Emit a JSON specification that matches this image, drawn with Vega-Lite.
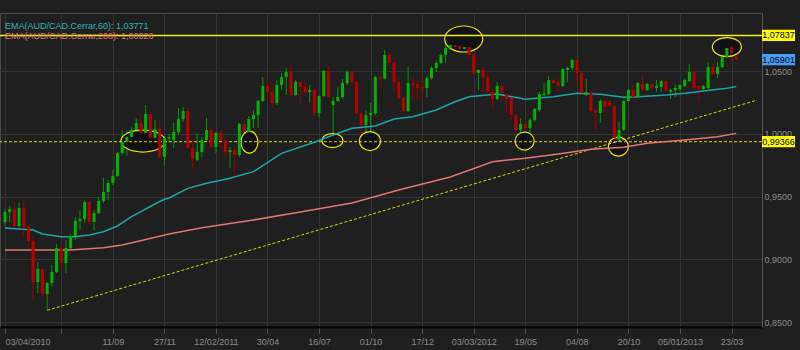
{
  "$schema": "https://vega.github.io/schema/vega-lite/v6.json",
  "width": 762,
  "height": 314,
  "autosize": {"type": "none"},
  "padding": {"left": 0, "top": 13, "right": 38, "bottom": 23},
  "background": "#1f1f1f",
  "config": {
    "view": {"stroke": "#4a4a4a", "fill": "#1f1f1f"},
    "axisX": {"grid": true, "gridColor": "#343434", "tickColor": "#555555", "tickSize": 6, "domainColor": "#050505", "domainWidth": 2, "labelColor": "#8c8c8c", "labelFont": "Liberation Sans", "labelFontSize": 9, "labelPadding": 4},
    "axisY": {"grid": true, "gridColor": "#343434", "ticks": false, "domain": true, "domainColor": "#555555", "labelColor": "#8c8c8c", "labelFont": "Liberation Sans", "labelFontSize": 9, "labelPadding": 2}
  },
  "title": {
    "text": "EMA(AUD/CAD.Cerrar,60): 1,03771",
    "subtitle": "EMA(AUD/CAD.Cerrar,200): 1,00026",
    "anchor": "start", "frame": "group", "offset": -28, "dx": 5,
    "font": "Liberation Sans", "fontSize": 9, "fontWeight": "normal", "color": "#2bb3b3",
    "subtitleFont": "Liberation Sans", "subtitleFontSize": 9, "subtitleColor": "#e0786f", "subtitlePadding": 1
  },
  "datasets": {
    "candles": [
      {"d":"2010-04-03","o":0.9297,"h":0.9400,"l":0.9273,"c":0.9377},
      {"d":"2010-04-10","o":0.9377,"h":0.9424,"l":0.9297,"c":0.9400},
      {"d":"2010-04-17","o":0.9400,"h":0.9456,"l":0.9249,"c":0.9265},
      {"d":"2010-04-24","o":0.9265,"h":0.9448,"l":0.9249,"c":0.9408},
      {"d":"2010-05-01","o":0.9408,"h":0.9472,"l":0.9185,"c":0.9257},
      {"d":"2010-05-08","o":0.9257,"h":0.9265,"l":0.9113,"c":0.9145},
      {"d":"2010-05-15","o":0.9145,"h":0.9177,"l":0.8667,"c":0.8819},
      {"d":"2010-05-22","o":0.8819,"h":0.8978,"l":0.8731,"c":0.8922},
      {"d":"2010-05-29","o":0.8922,"h":0.8930,"l":0.8699,"c":0.8723},
      {"d":"2010-06-05","o":0.8723,"h":0.8819,"l":0.8596,"c":0.8811},
      {"d":"2010-06-12","o":0.8811,"h":0.8954,"l":0.8787,"c":0.8898},
      {"d":"2010-06-19","o":0.8898,"h":0.9121,"l":0.8890,"c":0.9090},
      {"d":"2010-06-26","o":0.9090,"h":0.9129,"l":0.8922,"c":0.8970},
      {"d":"2010-07-03","o":0.8970,"h":0.9153,"l":0.8890,"c":0.9090},
      {"d":"2010-07-10","o":0.9090,"h":0.9201,"l":0.9074,"c":0.9185},
      {"d":"2010-07-17","o":0.9185,"h":0.9337,"l":0.9153,"c":0.9305},
      {"d":"2010-07-24","o":0.9305,"h":0.9392,"l":0.9233,"c":0.9321},
      {"d":"2010-07-31","o":0.9321,"h":0.9472,"l":0.9289,"c":0.9456},
      {"d":"2010-08-07","o":0.9456,"h":0.9480,"l":0.9281,"c":0.9297},
      {"d":"2010-08-14","o":0.9297,"h":0.9392,"l":0.9233,"c":0.9369},
      {"d":"2010-08-21","o":0.9369,"h":0.9496,"l":0.9361,"c":0.9464},
      {"d":"2010-08-28","o":0.9464,"h":0.9647,"l":0.9448,"c":0.9536},
      {"d":"2010-09-04","o":0.9536,"h":0.9631,"l":0.9472,"c":0.9608},
      {"d":"2010-09-11","o":0.9608,"h":0.9711,"l":0.9592,"c":0.9663},
      {"d":"2010-09-18","o":0.9663,"h":0.9855,"l":0.9655,"c":0.9847},
      {"d":"2010-09-25","o":0.9847,"h":1.0030,"l":0.9831,"c":0.9934},
      {"d":"2010-10-02","o":0.9934,"h":1.0022,"l":0.9823,"c":0.9974},
      {"d":"2010-10-09","o":0.9974,"h":1.0054,"l":0.9894,"c":1.0030},
      {"d":"2010-10-16","o":1.0030,"h":1.0125,"l":1.0006,"c":1.0086},
      {"d":"2010-10-23","o":1.0086,"h":1.0157,"l":0.9926,"c":1.0006},
      {"d":"2010-10-30","o":1.0006,"h":1.0229,"l":0.9998,"c":1.0157},
      {"d":"2010-11-06","o":1.0157,"h":1.0165,"l":0.9950,"c":0.9966},
      {"d":"2010-11-13","o":0.9966,"h":1.0110,"l":0.9950,"c":1.0038},
      {"d":"2010-11-20","o":1.0038,"h":1.0102,"l":0.9807,"c":0.9815},
      {"d":"2010-11-27","o":0.9815,"h":0.9982,"l":0.9751,"c":0.9966},
      {"d":"2010-12-04","o":0.9960,"h":0.9998,"l":0.9934,"c":0.9972},
      {"d":"2010-12-11","o":0.9950,"h":1.0086,"l":0.9886,"c":1.0014},
      {"d":"2010-12-18","o":1.0014,"h":1.0205,"l":0.9998,"c":1.0117},
      {"d":"2010-12-25","o":1.0117,"h":1.0213,"l":1.0094,"c":1.0181},
      {"d":"2011-01-01","o":1.0181,"h":1.0189,"l":0.9879,"c":0.9886},
      {"d":"2011-01-08","o":0.9886,"h":0.9950,"l":0.9719,"c":0.9799},
      {"d":"2011-01-15","o":0.9791,"h":1.0006,"l":0.9783,"c":0.9855},
      {"d":"2011-01-22","o":0.9855,"h":0.9974,"l":0.9815,"c":0.9950},
      {"d":"2011-01-29","o":0.9950,"h":1.0125,"l":0.9934,"c":1.0030},
      {"d":"2011-02-05","o":1.0030,"h":1.0054,"l":0.9886,"c":0.9894},
      {"d":"2011-02-12","o":0.9894,"h":1.0014,"l":0.9847,"c":1.0006},
      {"d":"2011-02-19","o":1.0006,"h":1.0022,"l":0.9894,"c":0.9942},
      {"d":"2011-02-26","o":0.9942,"h":0.9966,"l":0.9807,"c":0.9855},
      {"d":"2011-03-05","o":0.9855,"h":0.9894,"l":0.9727,"c":0.9870},
      {"d":"2011-03-12","o":0.9870,"h":0.9894,"l":0.9655,"c":0.9831},
      {"d":"2011-03-19","o":0.9831,"h":1.0086,"l":0.9815,"c":1.0078},
      {"d":"2011-03-26","o":1.0078,"h":1.0110,"l":0.9998,"c":1.0014},
      {"d":"2011-04-02","o":1.0014,"h":1.0141,"l":0.9998,"c":1.0117},
      {"d":"2011-04-09","o":1.0117,"h":1.0189,"l":1.0046,"c":1.0149},
      {"d":"2011-04-16","o":1.0149,"h":1.0269,"l":1.0046,"c":1.0261},
      {"d":"2011-04-23","o":1.0261,"h":1.0452,"l":1.0253,"c":1.0380},
      {"d":"2011-04-30","o":1.0380,"h":1.0452,"l":1.0269,"c":1.0333},
      {"d":"2011-05-07","o":1.0333,"h":1.0412,"l":1.0205,"c":1.0245},
      {"d":"2011-05-14","o":1.0245,"h":1.0428,"l":1.0229,"c":1.0388},
      {"d":"2011-05-21","o":1.0388,"h":1.0484,"l":1.0349,"c":1.0452},
      {"d":"2011-05-28","o":1.0452,"h":1.0524,"l":1.0309,"c":1.0492},
      {"d":"2011-06-04","o":1.0492,"h":1.0564,"l":1.0301,"c":1.0309},
      {"d":"2011-06-11","o":1.0309,"h":1.0428,"l":1.0301,"c":1.0412},
      {"d":"2011-06-18","o":1.0412,"h":1.0420,"l":1.0245,"c":1.0372},
      {"d":"2011-06-25","o":1.0372,"h":1.0404,"l":1.0309,"c":1.0333},
      {"d":"2011-07-02","o":1.0333,"h":1.0388,"l":1.0253,"c":1.0349},
      {"d":"2011-07-09","o":1.0349,"h":1.0365,"l":1.0149,"c":1.0165},
      {"d":"2011-07-16","o":1.0165,"h":1.0309,"l":1.0133,"c":1.0301},
      {"d":"2011-07-23","o":1.0301,"h":1.0508,"l":1.0293,"c":1.0500},
      {"d":"2011-07-30","o":1.0500,"h":1.0540,"l":1.0285,"c":1.0293},
      {"d":"2011-08-06","o":1.0229,"h":1.0293,"l":0.9910,"c":1.0261},
      {"d":"2011-08-13","o":1.0261,"h":1.0372,"l":1.0255,"c":1.0293},
      {"d":"2011-08-20","o":1.0293,"h":1.0436,"l":1.0277,"c":1.0404},
      {"d":"2011-08-27","o":1.0404,"h":1.0508,"l":1.0388,"c":1.0492},
      {"d":"2011-09-03","o":1.0492,"h":1.0500,"l":1.0388,"c":1.0412},
      {"d":"2011-09-10","o":1.0412,"h":1.0420,"l":1.0149,"c":1.0165},
      {"d":"2011-09-17","o":1.0165,"h":1.0173,"l":1.0006,"c":1.0070},
      {"d":"2011-09-24","o":1.0070,"h":1.0189,"l":1.0006,"c":1.0149},
      {"d":"2011-10-01","o":1.0149,"h":1.0245,"l":0.9950,"c":1.0165},
      {"d":"2011-10-08","o":1.0165,"h":1.0460,"l":1.0149,"c":1.0452},
      {"d":"2011-10-15","o":1.0452,"h":1.0460,"l":1.0372,"c":1.0440},
      {"d":"2011-10-22","o":1.0440,"h":1.0667,"l":1.0436,"c":1.0628},
      {"d":"2011-10-29","o":1.0628,"h":1.0643,"l":1.0548,"c":1.0564},
      {"d":"2011-11-05","o":1.0564,"h":1.0580,"l":1.0325,"c":1.0412},
      {"d":"2011-11-12","o":1.0412,"h":1.0452,"l":1.0269,"c":1.0285},
      {"d":"2011-11-19","o":1.0285,"h":1.0293,"l":1.0173,"c":1.0181},
      {"d":"2011-11-26","o":1.0181,"h":1.0532,"l":1.0173,"c":1.0404},
      {"d":"2011-12-03","o":1.0404,"h":1.0452,"l":1.0269,"c":1.0388},
      {"d":"2011-12-10","o":1.0396,"h":1.0428,"l":1.0269,"c":1.0365},
      {"d":"2011-12-17","o":1.0372,"h":1.0452,"l":1.0269,"c":1.0360},
      {"d":"2011-12-24","o":1.0365,"h":1.0460,"l":1.0293,"c":1.0444},
      {"d":"2011-12-31","o":1.0444,"h":1.0540,"l":1.0428,"c":1.0524},
      {"d":"2012-01-07","o":1.0524,"h":1.0580,"l":1.0492,"c":1.0564},
      {"d":"2012-01-14","o":1.0564,"h":1.0643,"l":1.0556,"c":1.0628},
      {"d":"2012-01-21","o":1.0628,"h":1.0747,"l":1.0564,"c":1.0683},
      {"d":"2012-01-28","o":1.0683,"h":1.0747,"l":1.0667,"c":1.0707},
      {"d":"2012-02-04","o":1.0707,"h":1.0784,"l":1.0667,"c":1.0691},
      {"d":"2012-02-11","o":1.0699,"h":1.0779,"l":1.0651,"c":1.0675},
      {"d":"2012-02-18","o":1.0675,"h":1.0723,"l":1.0659,"c":1.0691},
      {"d":"2012-02-25","o":1.0691,"h":1.0779,"l":1.0604,"c":1.0628},
      {"d":"2012-03-03","o":1.0628,"h":1.0632,"l":1.0468,"c":1.0484},
      {"d":"2012-03-10","o":1.0484,"h":1.0512,"l":1.0349,"c":1.0508},
      {"d":"2012-03-17","o":1.0508,"h":1.0524,"l":1.0333,"c":1.0452},
      {"d":"2012-03-24","o":1.0452,"h":1.0468,"l":1.0325,"c":1.0333},
      {"d":"2012-03-31","o":1.0333,"h":1.0365,"l":1.0205,"c":1.0277},
      {"d":"2012-04-07","o":1.0277,"h":1.0412,"l":1.0269,"c":1.0380},
      {"d":"2012-04-14","o":1.0380,"h":1.0404,"l":1.0269,"c":1.0325},
      {"d":"2012-04-21","o":1.0309,"h":1.0325,"l":1.0165,"c":1.0277},
      {"d":"2012-04-28","o":1.0285,"h":1.0293,"l":1.0110,"c":1.0149},
      {"d":"2012-05-05","o":1.0149,"h":1.0152,"l":1.0014,"c":1.0030},
      {"d":"2012-05-12","o":1.0030,"h":1.0125,"l":0.9990,"c":1.0078},
      {"d":"2012-05-19","o":1.0078,"h":1.0110,"l":0.9966,"c":1.0046},
      {"d":"2012-05-26","o":1.0046,"h":1.0125,"l":1.0006,"c":1.0110},
      {"d":"2012-06-02","o":1.0110,"h":1.0205,"l":1.0094,"c":1.0197},
      {"d":"2012-06-09","o":1.0189,"h":1.0333,"l":1.0173,"c":1.0317},
      {"d":"2012-06-16","o":1.0309,"h":1.0404,"l":1.0301,"c":1.0321},
      {"d":"2012-06-23","o":1.0317,"h":1.0460,"l":1.0309,"c":1.0428},
      {"d":"2012-06-30","o":1.0428,"h":1.0436,"l":1.0396,"c":1.0404},
      {"d":"2012-07-07","o":1.0412,"h":1.0452,"l":1.0325,"c":1.0380},
      {"d":"2012-07-14","o":1.0380,"h":1.0524,"l":1.0372,"c":1.0516},
      {"d":"2012-07-21","o":1.0508,"h":1.0532,"l":1.0412,"c":1.0524},
      {"d":"2012-07-28","o":1.0524,"h":1.0596,"l":1.0508,"c":1.0588},
      {"d":"2012-08-04","o":1.0588,"h":1.0596,"l":1.0412,"c":1.0484},
      {"d":"2012-08-11","o":1.0484,"h":1.0492,"l":1.0309,"c":1.0325},
      {"d":"2012-08-18","o":1.0309,"h":1.0436,"l":1.0301,"c":1.0333},
      {"d":"2012-08-25","o":1.0333,"h":1.0349,"l":1.0173,"c":1.0181},
      {"d":"2012-09-01","o":1.0189,"h":1.0197,"l":1.0030,"c":1.0165},
      {"d":"2012-09-08","o":1.0165,"h":1.0277,"l":1.0086,"c":1.0261},
      {"d":"2012-09-15","o":1.0261,"h":1.0269,"l":1.0165,"c":1.0213},
      {"d":"2012-09-22","o":1.0253,"h":1.0269,"l":1.0213,"c":1.0221},
      {"d":"2012-09-29","o":1.0221,"h":1.0229,"l":0.9942,"c":0.9966},
      {"d":"2012-10-06","o":0.9950,"h":1.0094,"l":0.9870,"c":1.0030},
      {"d":"2012-10-13","o":1.0030,"h":1.0269,"l":1.0022,"c":1.0261},
      {"d":"2012-10-20","o":1.0261,"h":1.0357,"l":1.0253,"c":1.0349},
      {"d":"2012-10-27","o":1.0349,"h":1.0388,"l":1.0285,"c":1.0293},
      {"d":"2012-11-03","o":1.0293,"h":1.0412,"l":1.0285,"c":1.0404},
      {"d":"2012-11-10","o":1.0396,"h":1.0468,"l":1.0341,"c":1.0349},
      {"d":"2012-11-17","o":1.0349,"h":1.0404,"l":1.0341,"c":1.0396},
      {"d":"2012-11-24","o":1.0396,"h":1.0404,"l":1.0357,"c":1.0365},
      {"d":"2012-12-01","o":1.0365,"h":1.0428,"l":1.0333,"c":1.0380},
      {"d":"2012-12-08","o":1.0372,"h":1.0428,"l":1.0333,"c":1.0420},
      {"d":"2012-12-15","o":1.0420,"h":1.0428,"l":1.0337,"c":1.0341},
      {"d":"2012-12-22","o":1.0333,"h":1.0357,"l":1.0277,"c":1.0349},
      {"d":"2012-12-29","o":1.0349,"h":1.0388,"l":1.0293,"c":1.0365},
      {"d":"2013-01-05","o":1.0357,"h":1.0396,"l":1.0341,"c":1.0388},
      {"d":"2013-01-12","o":1.0380,"h":1.0444,"l":1.0372,"c":1.0428},
      {"d":"2013-01-19","o":1.0420,"h":1.0556,"l":1.0412,"c":1.0492},
      {"d":"2013-01-26","o":1.0492,"h":1.0508,"l":1.0361,"c":1.0365},
      {"d":"2013-02-02","o":1.0380,"h":1.0388,"l":1.0253,"c":1.0357},
      {"d":"2013-02-09","o":1.0357,"h":1.0388,"l":1.0349,"c":1.0380},
      {"d":"2013-02-16","o":1.0365,"h":1.0572,"l":1.0357,"c":1.0532},
      {"d":"2013-02-23","o":1.0532,"h":1.0564,"l":1.0468,"c":1.0476},
      {"d":"2013-03-02","o":1.0476,"h":1.0572,"l":1.0444,"c":1.0532},
      {"d":"2013-03-09","o":1.0532,"h":1.0683,"l":1.0520,"c":1.0612},
      {"d":"2013-03-16","o":1.0612,"h":1.0723,"l":1.0604,"c":1.0683},
      {"d":"2013-03-23","o":1.0691,"h":1.0707,"l":1.0588,"c":1.0643},
      {"d":"2013-03-30","o":1.0614,"h":1.0616,"l":1.0586,"c":1.0590}
    ],
    "ema60": [
      {"d":"2010-04-03","v":0.9249},{"d":"2010-05-15","v":0.9233},{"d":"2010-05-29","v":0.9201},
      {"d":"2010-06-26","v":0.9180},{"d":"2010-07-17","v":0.9180},{"d":"2010-08-07","v":0.9193},
      {"d":"2010-08-28","v":0.9219},{"d":"2010-09-18","v":0.9265},{"d":"2010-10-09","v":0.9339},
      {"d":"2010-11-13","v":0.9440},{"d":"2010-11-27","v":0.9478},{"d":"2010-12-04","v":0.9488},
      {"d":"2011-01-01","v":0.9565},{"d":"2011-01-29","v":0.9605},{"d":"2011-03-05","v":0.9645},
      {"d":"2011-04-09","v":0.9698},{"d":"2011-05-21","v":0.9844},{"d":"2011-07-09","v":0.9932},
      {"d":"2011-07-30","v":0.9976},{"d":"2011-09-03","v":1.0043},{"d":"2011-10-08","v":1.0062},
      {"d":"2011-11-05","v":1.0118},{"d":"2011-12-03","v":1.0136},{"d":"2012-01-07","v":1.0189},
      {"d":"2012-02-04","v":1.0255},{"d":"2012-02-25","v":1.0295},{"d":"2012-04-07","v":1.0317},
      {"d":"2012-05-19","v":1.0275},{"d":"2012-06-30","v":1.0295},{"d":"2012-08-04","v":1.0322},
      {"d":"2012-09-08","v":1.0314},{"d":"2012-10-13","v":1.0290},{"d":"2012-11-03","v":1.0295},
      {"d":"2012-12-15","v":1.0309},{"d":"2013-01-12","v":1.0322},{"d":"2013-02-09","v":1.0340},
      {"d":"2013-03-16","v":1.0362},{"d":"2013-03-30","v":1.0377}
    ],
    "ema200": [
      {"d":"2010-04-03","v":0.9074},{"d":"2010-05-22","v":0.9074},{"d":"2010-07-10","v":0.9074},
      {"d":"2010-07-31","v":0.9082},{"d":"2010-08-28","v":0.9092},{"d":"2010-09-25","v":0.9113},
      {"d":"2010-10-16","v":0.9140},{"d":"2010-12-04","v":0.9201},{"d":"2011-01-22","v":0.9251},
      {"d":"2011-04-09","v":0.9313},{"d":"2011-06-18","v":0.9376},{"d":"2011-09-03","v":0.9448},
      {"d":"2011-11-12","v":0.9552},{"d":"2012-01-28","v":0.9655},{"d":"2012-03-31","v":0.9777},
      {"d":"2012-05-19","v":0.9805},{"d":"2012-07-07","v":0.9839},{"d":"2012-08-25","v":0.9876},
      {"d":"2012-10-13","v":0.9892},{"d":"2012-11-17","v":0.9924},{"d":"2013-01-12","v":0.9950},
      {"d":"2013-03-02","v":0.9976},{"d":"2013-03-30","v":1.0003}
    ],
    "trend": [{"d":"2010-06-05","v":0.8593},{"d":"2013-04-30","v":1.0268}],
    "levels": [{"v":1.07837,"k":"solid"},{"v":0.99366,"k":"dash"}],
    "ellipses": [
      {"d":"2010-10-26","v":0.9942,"id":"e1"},
      {"d":"2011-04-03","v":0.9934,"id":"e2"},
      {"d":"2011-08-05","v":0.9946,"id":"e3"},
      {"d":"2011-09-30","v":0.9942,"id":"e4"},
      {"d":"2012-02-17","v":1.0755,"id":"e5"},
      {"d":"2012-05-18","v":0.9942,"id":"e6"},
      {"d":"2012-10-05","v":0.9898,"id":"e7"},
      {"d":"2013-03-16","v":1.0691,"id":"e8"}
    ],
    "tags": [
      {"v":1.07837,"t":"1,07837","k":"line"},
      {"v":1.05901,"t":"1,05901","k":"price"},
      {"v":0.99366,"t":"0,99366","k":"line"}
    ]
  },
  "layer": [
    {
      "data": {"name": "candles"},
      "mark": {"type": "rule", "clip": true, "strokeWidth": 1},
      "encoding": {
        "x": {
          "field": "d", "type": "temporal", "title": null,
          "scale": {"type": "utc", "domain": [1270252800000, 1367280000000]},
          "axis": {
            "values": [1270252800000, 1277510400000, 1284163200000, 1290816000000, 1297468800000, 1304121600000, 1310774400000, 1317427200000, 1324080000000, 1330732800000, 1337385600000, 1344038400000, 1350691200000, 1357344000000, 1363996800000],
            "labelExpr": "indexof(['03/04/2010','12/02/2011','03/03/2012','05/01/2013'], utcFormat(datum.value, '%d/%m/%Y')) >= 0 ? utcFormat(datum.value, '%d/%m/%Y') : (utcFormat(datum.value, '%d/%m') == '26/06' ? '' : utcFormat(datum.value, '%d/%m'))",
            "labelFlush": false, "labelOverlap": false, "labelBound": false,
            "labelAlign": {"condition": {"test": "datum.value <= 1270252800000", "value": "left"}, "value": "center"},
            "title": null
          }
        },
        "y": {
          "field": "l", "type": "quantitative", "title": null,
          "scale": {"domain": [0.84602, 1.09622], "zero": false, "nice": false},
          "axis": {
            "orient": "right",
            "values": [0.85, 0.875, 0.9, 0.925, 0.95, 0.975, 1.0, 1.025, 1.05],
            "labelExpr": "replace(format(datum.value, '.4f'), '.', ',')",
            "title": null
          }
        },
        "y2": {"field": "h"},
        "color": {"condition": {"test": "datum.c >= datum.o", "value": "#009a00"}, "value": "#9a0000"}
      }
    },
    {
      "data": {"name": "ellipses"},
      "mark": {"type": "point", "filled": true, "fill": "#111111", "stroke": "#e6e600", "strokeWidth": 1.2, "opacity": 1, "clip": true},
      "encoding": {
        "x": {"field": "d", "type": "temporal", "title": null},
        "y": {"field": "v", "type": "quantitative", "title": null},
        "shape": {
          "field": "id", "type": "nominal", "legend": null,
          "scale": {
            "type": "ordinal",
            "domain": ["e1","e2","e3","e4","e5","e6","e7","e8"],
            "range": [
              "M-1,0C-1,-0.276,-0.552,-0.5,0,-0.5C0.552,-0.5,1,-0.276,1,0C1,0.276,0.552,0.5,0,0.5C-0.552,0.5,-1,0.276,-1,0Z",
              "M-1,0C-1,-0.715,-0.552,-1.294,0,-1.294C0.552,-1.294,1,-0.715,1,0C1,0.715,0.552,1.294,0,1.294C-0.552,1.294,-1,0.715,-1,0Z",
              "M-1,0C-1,-0.368,-0.552,-0.667,0,-0.667C0.552,-0.667,1,-0.368,1,0C1,0.368,0.552,0.667,0,0.667C-0.552,0.667,-1,0.368,-1,0Z",
              "M-1,0C-1,-0.5,-0.552,-0.905,0,-0.905C0.552,-0.905,1,-0.5,1,0C1,0.5,0.552,0.905,0,0.905C-0.552,0.905,-1,0.5,-1,0Z",
              "M-1,0C-1,-0.378,-0.552,-0.684,0,-0.684C0.552,-0.684,1,-0.378,1,0C1,0.378,0.552,0.684,0,0.684C-0.552,0.684,-1,0.378,-1,0Z",
              "M-1,0C-1,-0.523,-0.552,-0.947,0,-0.947C0.552,-0.947,1,-0.523,1,0C1,0.523,0.552,0.947,0,0.947C-0.552,0.947,-1,0.523,-1,0Z",
              "M-1,0C-1,-0.525,-0.552,-0.95,0,-0.95C0.552,-0.95,1,-0.525,1,0C1,0.525,0.552,0.95,0,0.95C-0.552,0.95,-1,0.525,-1,0Z",
              "M-1,0C-1,-0.362,-0.552,-0.655,0,-0.655C0.552,-0.655,1,-0.362,1,0C1,0.362,0.552,0.655,0,0.655C-0.552,0.655,-1,0.362,-1,0Z"
            ]
          }
        },
        "size": {
          "field": "id", "type": "nominal", "legend": null,
          "scale": {"type": "ordinal", "domain": ["e1","e2","e3","e4","e5","e6","e7","e8"], "range": [1936, 289, 441, 441, 1444, 361, 400, 841]}
        }
      }
    },
    {
      "data": {"name": "levels"},
      "transform": [{"filter": "datum.k == 'solid'"}],
      "mark": {"type": "rule", "color": "#f0f020", "strokeWidth": 1.5},
      "encoding": {"y": {"field": "v", "type": "quantitative", "title": null}}
    },
    {
      "data": {"name": "levels"},
      "transform": [{"filter": "datum.k == 'dash'"}],
      "mark": {"type": "rule", "color": "#d8d800", "strokeWidth": 1, "strokeDash": [3, 2]},
      "encoding": {"y": {"field": "v", "type": "quantitative", "title": null}}
    },
    {
      "data": {"name": "trend"},
      "mark": {"type": "line", "color": "#d8d800", "strokeWidth": 1, "strokeDash": [3, 2], "clip": true},
      "encoding": {
        "x": {"field": "d", "type": "temporal", "title": null},
        "y": {"field": "v", "type": "quantitative", "title": null}
      }
    },
    {
      "data": {"name": "ema200"},
      "mark": {"type": "line", "color": "#df7872", "strokeWidth": 1.5, "clip": true},
      "encoding": {
        "x": {"field": "d", "type": "temporal", "title": null},
        "y": {"field": "v", "type": "quantitative", "title": null}
      }
    },
    {
      "data": {"name": "ema60"},
      "mark": {"type": "line", "color": "#1ca5a5", "strokeWidth": 1.5, "clip": true},
      "encoding": {
        "x": {"field": "d", "type": "temporal", "title": null},
        "y": {"field": "v", "type": "quantitative", "title": null}
      }
    },
    {
      "data": {"name": "candles"},
      "mark": {"type": "bar", "width": 3, "clip": true},
      "encoding": {
        "x": {"field": "d", "type": "temporal", "title": null},
        "y": {"field": "o", "type": "quantitative", "title": null},
        "y2": {"field": "c"},
        "color": {"condition": {"test": "datum.c >= datum.o", "value": "#00b400"}, "value": "#b80000"}
      }
    },
    {
      "data": {"name": "tags"},
      "mark": {"type": "point", "filled": true, "opacity": 1, "shape": "M-1,-0.34L1,-0.34L1,0.34L-1,0.34Z", "size": 1089},
      "encoding": {
        "x": {"value": 778.5},
        "y": {"field": "v", "type": "quantitative", "title": null},
        "fill": {"field": "k", "type": "nominal", "legend": null, "scale": {"domain": ["line","price"], "range": ["#ffff00","#4a9ef2"]}}
      }
    },
    {
      "data": {"name": "tags"},
      "mark": {"type": "text", "font": "Liberation Sans", "fontSize": 9, "color": "#000022", "align": "center", "baseline": "middle"},
      "encoding": {
        "x": {"value": 778.5},
        "y": {"field": "v", "type": "quantitative", "title": null},
        "text": {"field": "t"}
      }
    }
  ]
}
